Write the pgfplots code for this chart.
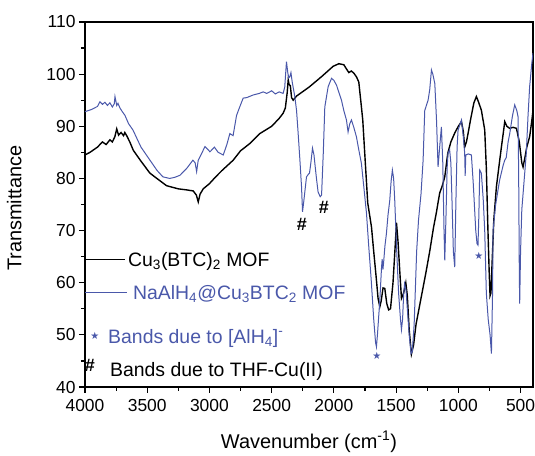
\documentclass[border=0pt]{standalone}
\usepackage{fontspec}
\setmainfont{Liberation Sans}
\newfontfamily\djv{DejaVu Sans}
\usepackage{pgfplots}
\pgfplotsset{compat=1.18}
\definecolor{mofblue}{RGB}{74,88,170}

\begin{document}
\begin{tikzpicture}[x=1bp,y=1bp]
\path[use as bounding box] (-85,-69) rectangle (450,387);
\begin{axis}[
  at={(0,0)}, anchor=south west,
  scale only axis, width=448bp, height=365bp,
  x dir=reverse, xmin=400, xmax=4000, ymin=40, ymax=110,
  xtick={500,1000,...,4000}, ytick={40,50,...,110},
  minor x tick num=1, minor y tick num=1,
  tick align=outside, tick pos=left,
  major tick length=6bp, minor tick length=4bp,
  axis line style={line width=1.6bp},
  every tick/.style={black, line width=1.2bp},
  tick label style={font=\fontsize{17.5}{19}\selectfont},
  xticklabel style={yshift=-3bp},
  /pgf/number format/assume math mode=true,
  /pgf/number format/1000 sep={},
  label style={font=\fontsize{20}{22}\selectfont},
  xlabel={Wavenumber (cm\textsuperscript{-1})},
  ylabel={Transmittance},
  xlabel style={at={(axis description cs:0.5,0)}, anchor=base, yshift=-61bp},
  ylabel style={at={(axis description cs:-0.158,0.49)}, anchor=center},
]
% Cu3(BTC)2 MOF
\addplot[black, line width=1.4bp] coordinates {
(4000,84.5)(3960,85.0)(3900,86.0)(3860,87.0)(3830,86.5)(3800,87.4)(3780,87.0)
(3760,88.0)(3745,89.5)(3730,88.3)(3710,88.8)(3690,88.2)(3680,88.8)(3665,88.2)
(3640,87.0)(3612,85.4)(3550,83.3)(3478,81.0)(3400,79.6)(3344,78.6)(3250,78.0)
(3183,77.8)(3130,77.6)(3105,76.8)(3090,75.5)(3075,77.0)(3050,78.0)(3000,79.0)
(2950,80.3)(2900,81.5)(2809,83.5)(2750,85.3)(2675,86.7)(2595,88.6)(2500,90.0)
(2440,91.5)(2408,92.5)(2390,93.5)(2375,96.5)(2367,98.9)(2360,98.0)(2350,97.8)
(2340,95.5)(2327,95.0)(2300,95.8)(2200,97.5)(2100,99.5)(2006,101.5)(1960,102.0)
(1920,101.8)(1899,101.0)(1880,100.3)(1860,100.6)(1840,100.2)(1819,99.5)
(1800,98.5)(1780,94.0)(1768,91.2)(1750,84.0)(1728,75.3)(1698,70.7)(1680,66.0)
(1660,61.0)(1645,57.0)(1631,55.4)(1620,56.5)(1605,59.0)(1591,58.9)(1575,56.0)
(1560,54.8)(1545,55.0)(1525,60.0)(1510,66.0)(1497,71.5)(1485,68.0)(1470,62.0)
(1457,57.0)(1440,58.0)(1422,60.0)(1410,57.5)(1395,51.0)(1377,46.3)(1360,48.0)
(1340,52.0)(1300,57.0)(1260,62.0)(1230,66.0)(1200,70.5)(1176,73.5)(1150,77.2)
(1130,78.5)(1109,80.3)(1085,84.8)(1060,87.0)(1029,88.7)(1000,90.0)(975,90.9)
(960,89.0)(949,86.0)(935,87.0)(922,88.6)(900,91.5)(875,94.5)(855,95.7)
(840,94.8)(815,93.1)(800,91.0)(788,89.3)(775,82.0)(762,70.0)(752,62.0)
(745,57.5)(738,58.0)(730,63.0)(715,72.0)(694,78.4)(670,83.0)(654,86.0)
(640,88.5)(627,90.9)(610,90.0)(587,89.6)(560,89.8)(533,89.6)(510,87.0)
(490,83.0)(480,82.2)(465,84.0)(450,86.0)(427,88.0)(410,91.0)(400,93.0)
};
% NaAlH4@Cu3BTC2 MOF
\addplot[mofblue, line width=1bp] coordinates {
(4000,92.8)(3950,93.2)(3900,93.8)(3880,94.7)(3860,94.2)(3840,94.6)(3820,94.0)
(3800,94.5)(3780,93.7)(3765,94.3)(3759,95.7)(3745,94.0)(3735,94.4)(3719,93.5)
(3700,92.8)(3679,92.1)(3650,90.5)(3615,89.3)(3550,86.0)(3478,83.5)(3420,81.5)
(3374,80.3)(3320,80.0)(3280,80.2)(3237,80.6)(3180,82.0)(3133,83.5)(3115,83.0)
(3103,81.3)(3090,83.5)(3077,84.1)(3036,86.1)(3010,85.5)(2996,85.1)(2960,86.0)
(2930,85.0)(2889,84.5)(2860,86.5)(2836,88.6)(2810,88.2)(2782,92.1)(2760,93.5)
(2729,95.4)(2700,95.5)(2649,96.0)(2600,96.3)(2568,96.6)(2540,96.3)(2500,96.8)
(2470,96.2)(2440,96.6)(2408,96.3)(2395,97.5)(2381,102.4)(2370,100.2)(2362,99.3)
(2354,99.5)(2345,100.3)(2335,98.5)(2314,95.7)(2300,93.0)(2287,88.6)(2273,83.5)
(2260,78.4)(2252,73.6)(2240,76.0)(2220,80.3)(2205,80.8)(2196,81.0)(2185,83.0)
(2172,85.8)(2160,84.5)(2153,82.9)(2140,80.0)(2127,77.4)(2110,76.5)(2099,76.8)
(2085,85.0)(2073,93.7)(2046,97.6)(2019,99.2)(2000,98.8)(1979,97.9)(1960,96.5)
(1939,95.0)(1920,93.0)(1899,91.2)(1886,88.9)(1872,90.5)(1859,91.2)(1840,89.8)
(1819,88.0)(1800,85.5)(1779,82.9)(1760,78.5)(1738,73.3)(1720,67.0)(1700,60.5)
(1680,53.0)(1665,48.5)(1658,47.7)(1650,50.0)(1640,53.5)(1631,56.6)(1617,63.0)
(1612,64.5)(1606,62.5)(1600,64.0)(1590,67.0)(1578,69.4)(1565,73.0)(1551,75.8)
(1540,79.5)(1530,81.6)(1520,80.0)(1511,75.8)(1495,66.0)(1480,58.0)(1465,53.0)
(1457,51.0)(1448,53.0)(1440,57.5)(1432,59.8)(1420,58.5)(1410,55.0)(1395,50.0)
(1380,46.4)(1370,46.8)(1355,52.0)(1335,66.0)(1320,72.0)(1300,77.0)(1283,83.5)
(1270,93.0)(1250,94.5)(1243,95.0)(1230,97.0)(1216,100.8)(1205,100.0)(1189,98.2)
(1175,91.0)(1163,82.2)(1150,86.0)(1136,89.9)(1125,83.0)(1115,70.0)(1109,64.3)
(1100,72.0)(1090,82.0)(1083,84.8)(1070,85.5)(1060,83.0)(1050,75.0)(1040,66.0)
(1029,63.0)(1020,75.0)(1010,86.0)(1002,89.3)(975,91.2)(960,88.0)(949,84.8)
(945,80.5)(940,84.5)(920,84.7)(895,84.5)(880,79.0)(860,70.0)(850,67.5)
(842,67.2)(835,73.0)(828,81.6)(815,81.0)(800,76.0)(788,70.0)(775,58.0)
(760,53.0)(745,50.0)(734,46.4)(725,58.0)(721,70.0)(700,75.0)(668,79.7)
(640,82.5)(627,83.5)(615,84.0)(600,87.0)(587,88.6)(565,92.0)(547,94.1)
(530,93.0)(520,91.8)(515,80.0)(510,62.0)(507,56.0)(500,66.0)(490,74.0)
(470,80.0)(454,84.8)(440,92.0)(427,97.6)(410,102.0)(400,104.0)
};
% band markers
\node[font=\fontsize{18}{18}\selectfont\bfseries] at (axis cs:2257,71.2) {\#};
\node[font=\fontsize{18}{18}\selectfont\bfseries] at (axis cs:2081,74.4) {\#};
\node[mofblue, font=\fontsize{10}{10}\djv] at (axis cs:1655,45.9) {★};
\node[mofblue, font=\fontsize{10}{10}\djv] at (axis cs:836,65.1) {★};
% legend
\draw[black, line width=1.4bp] (axis cs:4000,64.5) -- (axis cs:3679,64.5);
\node[anchor=base west, inner sep=0pt, font=\fontsize{19.5}{20}\selectfont]
  at (axis cs:3655,63.1) {Cu\textsubscript{3}(BTC)\textsubscript{2} MOF};
\draw[mofblue, line width=1bp] (axis cs:4000,58.2) -- (axis cs:3663,58.2);
\node[anchor=base west, inner sep=0pt, mofblue, font=\fontsize{19.5}{20}\selectfont]
  at (axis cs:3615,56.85) {NaAlH\textsubscript{4}@Cu\textsubscript{3}BTC\textsubscript{2} MOF};
\node[mofblue, font=\fontsize{10}{10}\djv] at (axis cs:3920,49.8) {★};
\node[anchor=base west, inner sep=0pt, mofblue, font=\fontsize{19.5}{20}\selectfont]
  at (axis cs:3815,48.4) {Bands due to [AlH\textsubscript{4}]\textsuperscript{-}};
\node[font=\fontsize{18}{18}\selectfont\bfseries] at (axis cs:3960,44.2) {\#};
\node[anchor=base west, inner sep=0pt, font=\fontsize{19.5}{20}\selectfont]
  at (axis cs:3800,42.0) {Bands due to THF-Cu(II)};
\end{axis}
\end{tikzpicture}
\end{document}
